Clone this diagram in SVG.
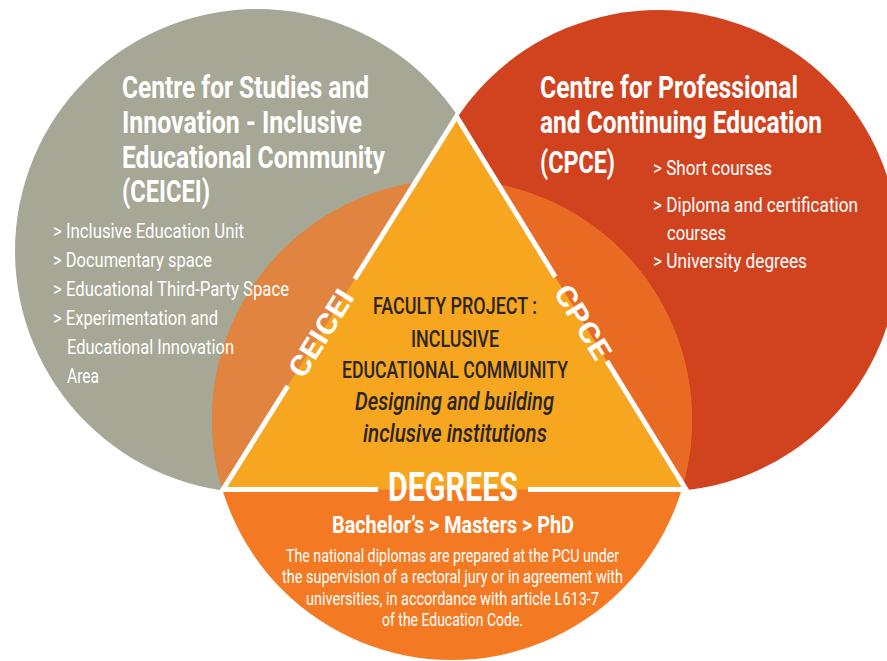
<svg xmlns="http://www.w3.org/2000/svg" width="887" height="661" viewBox="0 0 887 661">
  <style>
    text { font-family: Roboto, "Liberation Sans", Arial, sans-serif; }
    .title { font-size: 32px; font-weight: 700; fill: #ffffff; }
    .item { font-size: 21px; font-weight: 400; fill: #ffffff; }
    .core { font-size: 24px; font-weight: 500; fill: #2b2522; }
    .core-it { font-size: 25px; font-weight: 500; font-style: italic; fill: #2b2522; }
    .tag { font-size: 28px; font-weight: 700; fill: #ffffff; }
    .deg { font-size: 40px; font-weight: 700; fill: #ffffff; }
    .ladder { font-size: 24px; font-weight: 700; fill: #ffffff; }
    .note { font-size: 18px; font-weight: 400; fill: #ffffff; }
    .edge { fill: none; stroke: #ffffff; stroke-width: 5; stroke-linejoin: miter; stroke-miterlimit: 10; }
  </style>
  <defs>
    <clipPath id="clip-grey"><circle cx="257" cy="251" r="242"/></clipPath>
    <clipPath id="clip-red"><circle cx="658" cy="251" r="241"/></clipPath>
    <clipPath id="clip-upper"><rect x="0" y="0" width="887" height="489.5"/></clipPath>
  </defs>

  <rect width="887" height="661" fill="#ffffff"/>

  <!-- CEICEI circle -->
  <g id="ceicei">
    <circle cx="257" cy="251" r="242" fill="#a6a795"/>
  </g>

  <!-- CPCE circle -->
  <g id="cpce">
    <circle cx="658" cy="251" r="241" fill="#d1431f"/>
  </g>

  <!-- Degrees circle, tinted where it lies over the two centres -->
  <g id="degrees">
    <circle cx="452" cy="420" r="240" fill="#f37a22"/>
    <g clip-path="url(#clip-upper)">
      <circle cx="452" cy="420" r="240" fill="#e0843f" clip-path="url(#clip-grey)"/>
      <circle cx="452" cy="420" r="240" fill="#e96a22" clip-path="url(#clip-red)"/>
    </g>
  </g>

  <!-- Faculty project triangle -->
  <g id="faculty-project">
    <polygon points="456.5,116.5 686,489.5 223,489.5" fill="#f6a61f"/>
  </g>

  <!-- White triangle outline, broken where the side labels sit -->
  <g id="outline">
    <path class="edge" d="M354.8,279 L456.5,116.5 L555.3,277"/>
    <path class="edge" d="M606.9,361 L686,489.5 L528,489.5"/>
    <path class="edge" d="M378,489.5 L223,489.5 L287.8,386"/>
  </g>

  <!-- CEICEI texts -->
  <g id="ceicei-text">
    <text class="title" x="122" y="98" textLength="247" lengthAdjust="spacingAndGlyphs">Centre for Studies and</text>
    <text class="title" x="122" y="133" textLength="240" lengthAdjust="spacingAndGlyphs">Innovation - Inclusive</text>
    <text class="title" x="122" y="168" textLength="263" lengthAdjust="spacingAndGlyphs">Educational Community</text>
    <text class="title" x="122" y="202" textLength="88" lengthAdjust="spacingAndGlyphs">(CEICEI)</text>
    <text class="item" x="53" y="238" textLength="191" lengthAdjust="spacingAndGlyphs">&gt; Inclusive Education Unit</text>
    <text class="item" x="53" y="267" textLength="159" lengthAdjust="spacingAndGlyphs">&gt; Documentary space</text>
    <text class="item" x="53" y="296" textLength="236" lengthAdjust="spacingAndGlyphs">&gt; Educational Third-Party Space</text>
    <text class="item" x="53" y="325" textLength="165" lengthAdjust="spacingAndGlyphs">&gt; Experimentation and</text>
    <text class="item" x="67" y="354" textLength="167" lengthAdjust="spacingAndGlyphs">Educational Innovation</text>
    <text class="item" x="67" y="383" textLength="32" lengthAdjust="spacingAndGlyphs">Area</text>
  </g>

  <!-- CPCE texts -->
  <g id="cpce-text">
    <text class="title" x="540" y="98" textLength="258" lengthAdjust="spacingAndGlyphs">Centre for Professional</text>
    <text class="title" x="540" y="133" textLength="282" lengthAdjust="spacingAndGlyphs">and Continuing Education</text>
    <text class="title" x="540" y="173" textLength="75" lengthAdjust="spacingAndGlyphs">(CPCE)</text>
    <text class="item" x="653" y="175" textLength="119" lengthAdjust="spacingAndGlyphs">&gt; Short courses</text>
    <text class="item" x="653" y="212" textLength="205" lengthAdjust="spacingAndGlyphs">&gt; Diploma and certification</text>
    <text class="item" x="667" y="240" textLength="59" lengthAdjust="spacingAndGlyphs">courses</text>
    <text class="item" x="653" y="268" textLength="154" lengthAdjust="spacingAndGlyphs">&gt; University degrees</text>
  </g>

  <!-- Side labels on the triangle -->
  <g id="side-labels">
    <g transform="translate(321,333) rotate(-57.96)">
      <text class="tag" x="-49" y="10" textLength="98" lengthAdjust="spacingAndGlyphs">CEICEI</text>
    </g>
    <g transform="translate(583,322) rotate(58.4)">
      <text class="tag" x="-41" y="10" textLength="82" lengthAdjust="spacingAndGlyphs">CPCE</text>
    </g>
  </g>

  <!-- Faculty project texts -->
  <g id="faculty-text">
    <text class="core" x="373" y="314" textLength="164" lengthAdjust="spacingAndGlyphs">FACULTY PROJECT :</text>
    <text class="core" x="411" y="347" textLength="88" lengthAdjust="spacingAndGlyphs">INCLUSIVE</text>
    <text class="core" x="342" y="378" textLength="226" lengthAdjust="spacingAndGlyphs">EDUCATIONAL COMMUNITY</text>
    <text class="core-it" x="355" y="410" textLength="199" lengthAdjust="spacingAndGlyphs">Designing and building</text>
    <text class="core-it" x="363" y="442" textLength="184" lengthAdjust="spacingAndGlyphs">inclusive institutions</text>
  </g>

  <!-- Degrees texts -->
  <g id="degrees-text">
    <text class="deg" x="388" y="501" textLength="130" lengthAdjust="spacingAndGlyphs">DEGREES</text>
    <text class="ladder" x="332" y="533" textLength="242" lengthAdjust="spacingAndGlyphs">Bachelor’s &gt; Masters &gt; PhD</text>
    <text class="note" x="286" y="562" textLength="333" lengthAdjust="spacingAndGlyphs">The national diplomas are prepared at the PCU under</text>
    <text class="note" x="282" y="583" textLength="341" lengthAdjust="spacingAndGlyphs">the supervision of a rectoral jury or in agreement with</text>
    <text class="note" x="306" y="605" textLength="293" lengthAdjust="spacingAndGlyphs">universities, in accordance with article L613-7</text>
    <text class="note" x="382" y="626" textLength="141" lengthAdjust="spacingAndGlyphs">of the Education Code.</text>
  </g>
</svg>
